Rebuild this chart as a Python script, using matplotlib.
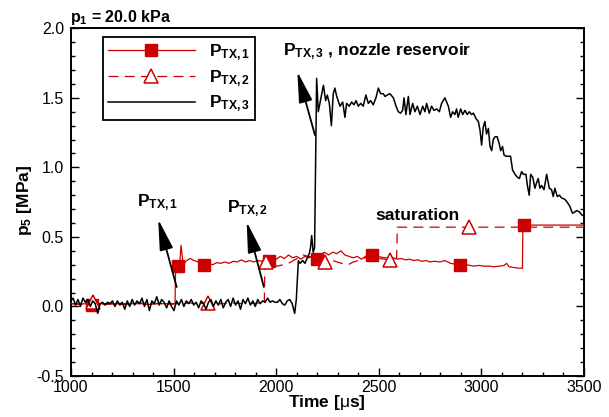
import matplotlib
matplotlib.use("Agg")
import matplotlib.pyplot as plt
from matplotlib.ticker import MultipleLocator, FormatStrFormatter

plt.rcParams['font.family'] = ['Liberation Sans', 'DejaVu Sans']
plt.rcParams['mathtext.fontset'] = 'custom'
plt.rcParams['mathtext.rm'] = 'Liberation Sans'
plt.rcParams['mathtext.bf'] = 'Liberation Sans:bold'
plt.rcParams['mathtext.it'] = 'Liberation Sans:italic'

RED = '#cc0000'

# ---- P_TX,3 : nozzle reservoir transducer ----
t3 = [1000, 1010, 1022, 1034, 1046, 1058, 1070, 1082, 1094, 1106, 1118, 1130, 1142,
      1154, 1166, 1178, 1190, 1202, 1214, 1226, 1238, 1250, 1262, 1274, 1286, 1298,
      1310, 1322, 1334, 1346, 1358, 1370, 1382, 1394, 1406, 1418, 1430, 1442, 1454,
      1466, 1478, 1490, 1502, 1514, 1526, 1538, 1550, 1562, 1574, 1586, 1598, 1610,
      1622, 1634, 1646, 1658, 1670, 1682, 1694, 1706, 1718, 1730, 1742, 1754, 1766,
      1778, 1790, 1802, 1814, 1826, 1838, 1850, 1862, 1874, 1886, 1898, 1910, 1922,
      1934, 1946, 1958, 1970, 1982, 1994, 2006, 2018, 2030, 2042, 2054, 2066, 2078,
      2090, 2098, 2108, 2116, 2129, 2140, 2152, 2161, 2167, 2173, 2180, 2187, 2197,
      2205, 2230, 2241, 2249, 2259, 2269, 2278, 2286, 2295, 2311, 2324, 2335, 2343,
      2356, 2368, 2379, 2389, 2400, 2412, 2424, 2437, 2449, 2460, 2473, 2486, 2498,
      2509, 2522, 2530, 2541, 2554, 2571, 2584, 2595, 2606, 2616, 2623, 2632, 2644,
      2652, 2665, 2676, 2688, 2701, 2714, 2725, 2733, 2746, 2757, 2769, 2782, 2795,
      2806, 2822, 2839, 2850, 2860, 2871, 2879, 2887, 2899, 2909, 2920, 2931, 2941,
      2952, 2961, 2974, 2985, 2993, 3001, 3009, 3017, 3025, 3034, 3042, 3050, 3058,
      3066, 3077, 3087, 3094, 3103, 3110, 3120, 3131, 3142, 3152, 3164, 3175, 3185,
      3196, 3204, 3217, 3224, 3233, 3240, 3250, 3261, 3269, 3277, 3285, 3293, 3305,
      3318, 3331, 3342, 3350, 3358, 3370, 3380, 3391, 3407, 3418, 3431, 3444, 3456,
      3464, 3477, 3488, 3500]
p3 = [0.04, 0.06, 0.01, 0.05, 0.00, 0.06, 0.03, 0.05, 0.00, 0.04, 0.02, -0.05, 0.02,
      0.03, 0.01, 0.03, 0.02, 0.04, 0.00, 0.04, 0.01, 0.03, -0.02, 0.04, 0.00, 0.05,
      0.01, 0.04, 0.02, 0.06, 0.00, 0.05, -0.03, 0.04, 0.02, 0.07, 0.01, 0.05, 0.03,
      -0.01, 0.04, 0.00, -0.03, 0.04, 0.01, 0.05, 0.00, 0.04, 0.02, 0.05, 0.01, 0.03,
      -0.01, 0.04, 0.02, -0.02, 0.03, 0.05, 0.00, 0.04, 0.01, 0.05, -0.01, 0.03, 0.05,
      0.00, 0.06, 0.01, 0.04, -0.02, 0.05, 0.02, 0.06, 0.01, 0.04, 0.00, 0.05, 0.02,
      0.04, 0.03, 0.06, 0.03, 0.04, 0.03, 0.03, 0.05, 0.02, 0.01, 0.04, 0.05, 0.02,
      -0.05, 0.05, 0.33, 0.31, 0.33, 0.31, 0.35, 0.38, 0.42, 0.51, 0.39, 0.42, 1.64,
      1.40, 1.59, 1.48, 1.52, 1.46, 1.30, 1.53, 1.57, 1.51, 1.44, 1.47, 1.36, 1.46,
      1.44, 1.47, 1.45, 1.48, 1.44, 1.46, 1.44, 1.52, 1.46, 1.48, 1.45, 1.50, 1.57,
      1.53, 1.53, 1.51, 1.52, 1.53, 1.50, 1.44, 1.40, 1.39, 1.41, 1.50, 1.38, 1.51,
      1.38, 1.46, 1.40, 1.44, 1.38, 1.44, 1.40, 1.46, 1.39, 1.44, 1.41, 1.42, 1.40,
      1.46, 1.50, 1.44, 1.36, 1.40, 1.38, 1.42, 1.36, 1.42, 1.38, 1.41, 1.38, 1.40,
      1.38, 1.39, 1.35, 1.33, 1.27, 1.16, 1.29, 1.33, 1.24, 1.28, 1.15, 1.12, 1.20,
      1.22, 1.22, 1.17, 1.12, 1.15, 1.09, 1.08, 1.08, 1.08, 0.98, 0.95, 0.93, 0.92,
      0.97, 0.95, 0.95, 0.87, 0.80, 0.95, 0.93, 0.85, 0.89, 0.92, 0.85, 0.87, 0.84,
      0.95, 0.85, 0.84, 0.79, 0.85, 0.79, 0.80, 0.78, 0.77, 0.75, 0.72, 0.67, 0.68,
      0.69, 0.68, 0.66, 0.65]

# ---- P_TX,1 ----
t1 = [1000, 1040, 1070, 1100, 1140, 1180, 1220, 1260, 1300, 1340, 1380, 1420, 1460,
      1490, 1507, 1510, 1520, 1530, 1536, 1547, 1563, 1580, 1600, 1620, 1648, 1670,
      1690, 1710, 1730, 1750, 1770, 1790, 1810, 1830, 1850, 1870, 1890, 1910, 1930,
      1950, 1966, 1985, 2000, 2020, 2040, 2060, 2080, 2100, 2120, 2140, 2160, 2180,
      2197, 2215, 2235, 2255, 2275, 2295, 2315, 2335, 2355, 2375, 2395, 2415, 2435,
      2450, 2468, 2490, 2510, 2530, 2550, 2570, 2590, 2610, 2630, 2650, 2670, 2690,
      2710, 2730, 2750, 2770, 2798, 2822, 2850, 2870, 2897, 2928, 2960, 2990, 3010,
      3040, 3058, 3090, 3110, 3123, 3135, 3160, 3180, 3200, 3202, 3210, 3500]
p1 = [0.02, 0.015, 0.02, 0.01, 0.02, 0.015, 0.02, 0.015, 0.02, 0.02, 0.015, 0.02, 0.02,
      0.015, 0.02, 0.30, 0.29, 0.30, 0.44, 0.30, 0.33, 0.345, 0.33, 0.32, 0.30, 0.31,
      0.30, 0.315, 0.31, 0.32, 0.31, 0.325, 0.32, 0.335, 0.32, 0.33, 0.32, 0.33, 0.325,
      0.335, 0.33, 0.35, 0.34, 0.36, 0.345, 0.37, 0.35, 0.36, 0.34, 0.36, 0.35, 0.37,
      0.34, 0.37, 0.39, 0.37, 0.39, 0.38, 0.40, 0.37, 0.36, 0.35, 0.36, 0.34, 0.36,
      0.37, 0.37, 0.36, 0.355, 0.35, 0.345, 0.35, 0.34, 0.345, 0.335, 0.34, 0.33, 0.335,
      0.325, 0.33, 0.32, 0.325, 0.32, 0.33, 0.31, 0.305, 0.30, 0.30, 0.29, 0.295, 0.29,
      0.29, 0.285, 0.29, 0.295, 0.31, 0.285, 0.28, 0.275, 0.275, 0.585, 0.585, 0.585]
m1 = [1100, 1520, 1648, 1966, 2197, 2468, 2897, 3210]

# ---- P_TX,2 ----
t2 = [1000, 1040, 1070, 1105, 1140, 1180, 1220, 1260, 1300, 1340, 1380, 1420, 1460,
      1500, 1540, 1580, 1620, 1670, 1710, 1750, 1790, 1830, 1870, 1910, 1942, 1945,
      1950, 1978, 2005, 2035, 2060, 2083, 2110, 2132, 2157, 2180, 2205, 2238, 2260,
      2295, 2320, 2351, 2375, 2400, 2441, 2470, 2500, 2530, 2554, 2587, 2590, 2620,
      2700, 2800, 2941, 3050, 3200, 3350, 3500]
p2 = [0.02, 0.02, 0.025, 0.03, 0.02, 0.02, 0.025, 0.02, 0.02, 0.025, 0.02, 0.02, 0.025,
      0.02, 0.02, 0.025, 0.02, 0.025, 0.02, 0.02, 0.025, 0.02, 0.02, 0.025, 0.02, 0.31,
      0.32, 0.30, 0.29, 0.30, 0.31, 0.33, 0.35, 0.37, 0.36, 0.35, 0.34, 0.32, 0.34,
      0.32, 0.31, 0.30, 0.32, 0.33, 0.355, 0.34, 0.345, 0.34, 0.333, 0.345, 0.57, 0.57,
      0.57, 0.57, 0.57, 0.57, 0.57, 0.57, 0.57]
m2 = [1105, 1670, 1950, 2238, 2554, 2941]

fig = plt.figure(figsize=(6.09, 4.17), dpi=100)
ax = fig.add_axes([71 / 609, 1 - 376 / 417, 513 / 609, 347.7 / 417])

l1, = ax.plot(t1, p1, color=RED, lw=0.9, marker='s', ms=8.5, mfc=RED, mec=RED,
              markevery=[t1.index(v) for v in m1], zorder=3, label=r'$\mathbf{P_{TX,1}}$')
l2, = ax.plot(t2, p2, color=RED, lw=0.9, ls=(0, (8, 5)), marker='^', ms=10, mfc='white',
              mec=RED, mew=1.1, markevery=[t2.index(v) for v in m2], zorder=3,
              label=r'$\mathbf{P_{TX,2}}$')
l3, = ax.plot(t3, p3, color='black', lw=1.1, zorder=4, label=r'$\mathbf{P_{TX,3}}$')

ax.set_xlim(1000, 3500)
ax.set_ylim(-0.5, 2.0)
ax.xaxis.set_major_locator(MultipleLocator(500))
ax.xaxis.set_minor_locator(MultipleLocator(100))
ax.yaxis.set_major_locator(MultipleLocator(0.5))
ax.yaxis.set_minor_locator(MultipleLocator(0.1))
ax.yaxis.set_major_formatter(FormatStrFormatter('%.1f'))
ax.tick_params(which='both', direction='in', right=True, top=False, labelsize=11.5,
               width=1.0)
ax.tick_params(which='major', length=6)
ax.tick_params(which='minor', length=3)
ax.tick_params(axis='x', pad=3)
ax.tick_params(axis='y', pad=5)
for s in ax.spines.values():
    s.set_linewidth(1.4)

# arrows pointing at the traces
arrow_kw = dict(arrowstyle='-|>,head_length=1.9,head_width=0.42', color='black',
                lw=1.3, shrinkA=0, shrinkB=0, mutation_scale=10)
ax.annotate('', xy=(1425, 0.626), xytext=(1515, 0.14), arrowprops=arrow_kw, zorder=6)
ax.annotate('', xy=(1856, 0.609), xytext=(1940, 0.14), arrowprops=arrow_kw, zorder=6)
ax.annotate('', xy=(2103, 1.688), xytext=(2189, 1.232), arrowprops=arrow_kw, zorder=6)

ax.text(1322, 0.722, r'$\mathbf{P_{TX,1}}$', fontsize=12.5, ha='left', va='baseline')
ax.text(1760, 0.678, r'$\mathbf{P_{TX,2}}$', fontsize=12.5, ha='left', va='baseline')
ax.text(2033, 1.808, r'$\mathbf{P_{TX,3}}$ , nozzle reservoir', fontsize=12.5,
        fontweight='bold', ha='left', va='baseline')
ax.text(2481, 0.62, 'saturation', fontsize=12.5, fontweight='bold', ha='left',
        va='baseline')

leg = ax.legend(handles=[l1, l2, l3], loc='upper left', bbox_to_anchor=(0.062, 0.975),
                fontsize=12.5, frameon=True, fancybox=False, edgecolor='black',
                framealpha=1, handlelength=5.0, handletextpad=0.8, labelspacing=0.3,
                borderpad=0.3, borderaxespad=0)
leg.get_frame().set_linewidth(1.3)

fig.text(70 / 609, 1 - 22 / 417, r'$\mathbf{p_1}$ = 20.0 kPa', fontsize=11.5,
         fontweight='bold', ha='left', va='baseline')
fig.text(25 / 609, 1 - 200 / 417, r'$\mathbf{p_5}$ [MPa]', fontsize=12.5,
         fontweight='bold', rotation=90, ha='center', va='center')
fig.text(327 / 609, 1 - 403 / 417, r'Time [$\mathrm{\mu}$s]', fontsize=12.5,
         fontweight='bold', ha='center', va='center')

fig.savefig('out.png', dpi=100)
